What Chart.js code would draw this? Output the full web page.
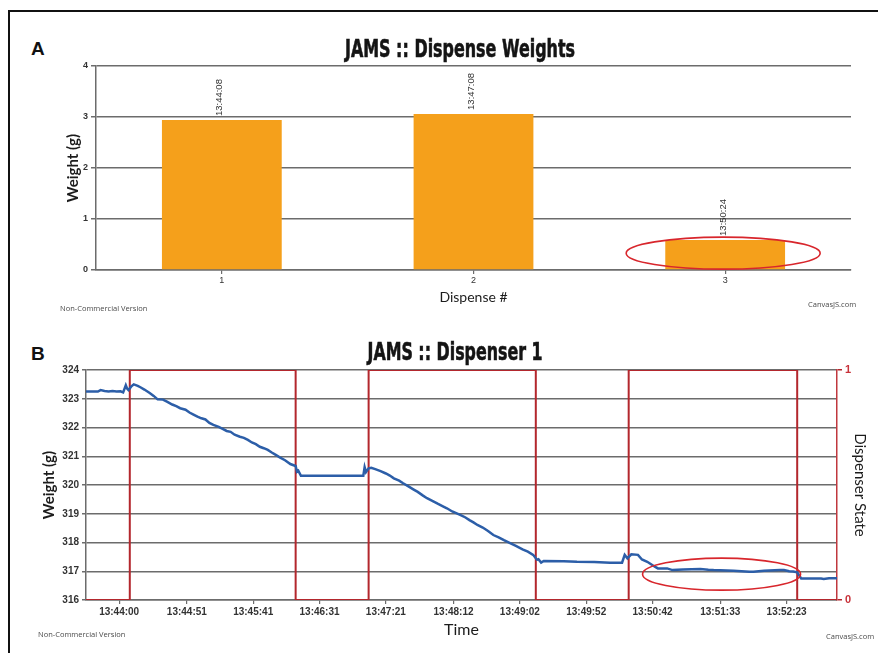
<!DOCTYPE html>
<html>
<head>
<meta charset="utf-8">
<title>JAMS dispense dashboard</title>
<script src="https://cdn.jsdelivr.net/npm/chart.js@4.4.0/dist/chart.umd.min.js"></script>
<style>
  html, body { margin: 0; padding: 0; background: #fff; overflow: hidden; }
  body { width: 878px; height: 653px; position: relative; }
  #frame { position: absolute; left: 8px; top: 10px; width: 900px; height: 700px;
           border-top: 2px solid #111; border-left: 2px solid #111; }
  .panel-letter { position: absolute; font: bold 19px "Liberation Sans", Arial, sans-serif; color: #111; }
  #wrapA { position: absolute; left: 40px; top: 30px; }
  #wrapB { position: absolute; left: 30px; top: 335px; }
  canvas { display: block; }
</style>
</head>
<body>
<div id="frame"></div>
<div class="panel-letter" style="left:31px; top:38px;">A</div>
<div class="panel-letter" style="left:31px; top:343px;">B</div>
<div id="wrapA"><canvas id="chartA" width="838" height="290"></canvas></div>
<div id="wrapB"><canvas id="chartB" width="848" height="310"></canvas></div>

<script>
// ---- Panel A: weight dispensed per dispense event ----
const dispenseNumbers = ['1', '2', '3'];
const dispenseWeights = [2.94, 3.06, 0.59];
const dispenseTimes = ['13:44:08', '13:47:08', '13:50:24'];

// ---- Panel B: scale reading and dispenser state over time ----
const timeTickLabels = ['13:44:00', '13:44:51', '13:45:41', '13:46:31', '13:47:21', '13:48:12',
                        '13:49:02', '13:49:52', '13:50:42', '13:51:33', '13:52:23'];
const timeAxisStart = '13:43:35';
const timeAxisEnd = '13:53:01';

const weightTimes = [
  '13:43:35', '13:43:44', '13:43:46', '13:43:49', '13:43:52', '13:43:55', '13:43:58', '13:44:01',
  '13:44:03', '13:44:05', '13:44:06', '13:44:07', '13:44:09', '13:44:11', '13:44:14', '13:44:16',
  '13:44:19', '13:44:23', '13:44:26', '13:44:29', '13:44:33', '13:44:36', '13:44:40', '13:44:43',
  '13:44:46', '13:44:50', '13:44:53', '13:44:56', '13:44:59', '13:45:02', '13:45:05', '13:45:08',
  '13:45:11', '13:45:15', '13:45:18', '13:45:21', '13:45:24', '13:45:27', '13:45:31', '13:45:34',
  '13:45:37', '13:45:40', '13:45:43', '13:45:46', '13:45:49', '13:45:52', '13:45:55', '13:45:58',
  '13:46:01', '13:46:05', '13:46:09', '13:46:13', '13:46:14', '13:46:15', '13:46:17', '13:47:04',
  '13:47:05', '13:47:06', '13:47:08', '13:47:10', '13:47:13', '13:47:17', '13:47:21', '13:47:24',
  '13:47:27', '13:47:31', '13:47:34', '13:47:38', '13:47:42', '13:47:45', '13:47:49', '13:47:52',
  '13:47:56', '13:48:00', '13:48:04', '13:48:07', '13:48:11', '13:48:14', '13:48:17', '13:48:21',
  '13:48:24', '13:48:27', '13:48:30', '13:48:34', '13:48:38', '13:48:42', '13:48:46', '13:48:50',
  '13:48:55', '13:48:59', '13:49:04', '13:49:08', '13:49:12', '13:49:14', '13:49:15', '13:49:16',
  '13:49:18', '13:49:20', '13:49:35', '13:49:45', '13:49:58', '13:50:10', '13:50:19', '13:50:21',
  '13:50:23', '13:50:26', '13:50:31', '13:50:34', '13:50:38', '13:50:40', '13:50:44', '13:50:46',
  '13:50:53', '13:50:57', '13:51:05', '13:51:18', '13:51:24', '13:51:28', '13:51:43', '13:51:55',
  '13:51:58', '13:52:06', '13:52:18', '13:52:21', '13:52:25', '13:52:28', '13:52:31', '13:52:34',
  '13:52:49', '13:52:51', '13:52:55', '13:53:01'
];
const weightValues = [
  323.25, 323.25, 323.30, 323.27, 323.25, 323.27, 323.25, 323.26,
  323.22, 323.47, 323.35, 323.30, 323.42, 323.50, 323.45, 323.40,
  323.32, 323.20, 323.10, 322.98, 322.97, 322.90, 322.80, 322.74,
  322.67, 322.62, 322.52, 322.45, 322.38, 322.32, 322.28, 322.16,
  322.09, 322.02, 321.95, 321.88, 321.85, 321.75, 321.68, 321.64,
  321.57, 321.48, 321.42, 321.33, 321.28, 321.22, 321.13, 321.05,
  320.96, 320.86, 320.73, 320.66, 320.46, 320.50, 320.32, 320.32,
  320.62, 320.45, 320.58, 320.60, 320.55, 320.48, 320.40, 320.33,
  320.23, 320.15, 320.06, 319.95, 319.84, 319.76, 319.63, 319.54,
  319.45, 319.35, 319.26, 319.19, 319.08, 319.02, 318.96, 318.87,
  318.78, 318.70, 318.61, 318.52, 318.40, 318.26, 318.18, 318.08,
  317.97, 317.88, 317.76, 317.68, 317.57, 317.45, 317.40, 317.42,
  317.30, 317.36, 317.35, 317.33, 317.32, 317.30, 317.30, 317.57,
  317.45, 317.59, 317.57, 317.41, 317.33, 317.27, 317.15, 317.10,
  317.10, 317.04, 317.06, 317.08, 317.05, 317.04, 317.02, 316.98,
  316.98, 317.02, 317.04, 317.04, 317.00, 316.99, 316.96, 316.75,
  316.75, 316.73, 316.76, 316.76
];

const stateTimes = ['13:43:35', '13:44:08', '13:46:13', '13:47:08', '13:49:14', '13:50:24', '13:52:31', '13:53:01'];
const stateValues = [0, 1, 0, 1, 0, 1, 0, 0];

// seconds past 13:00:00 for a "HH:MM:SS" string
function toSec(hms) {
  const [h, m, s] = hms.split(':').map(Number);
  return (h - 13) * 3600 + m * 60 + s;
}

const tickFont = '"Liberation Sans", Arial, sans-serif';
const labelFont = 'Lato, "Open Sans", sans-serif';
const gridGrey = '#6c6c6c';
const stateRed = '#b3272d';

// Headline, watermark and highlight ring drawn on top of each chart
const decorPlugin = {
  id: 'decor',
  afterDraw(chart, args, o) {
    const ctx = chart.ctx;
    ctx.save();
    // headline, squeezed to the set width
    ctx.font = 'bold 25px "Liberation Sans Narrow", "DejaVu Sans Condensed", "Liberation Sans", sans-serif';
    ctx.fillStyle = '#141414';
    ctx.strokeStyle = '#141414';
    ctx.lineWidth = 0.6;
    ctx.textAlign = 'center';
    ctx.textBaseline = 'alphabetic';
    const w = ctx.measureText(o.title).width;
    ctx.translate(o.titleX, o.titleY);
    ctx.scale(o.titleWidth / w, 1);
    ctx.fillText(o.title, 0, 0);
    ctx.strokeText(o.title, 0, 0);
    ctx.restore();

    ctx.save();
    ctx.font = '7.5px "Open Sans", sans-serif';
    ctx.fillStyle = '#4a4a4a';
    ctx.textBaseline = 'middle';
    ctx.textAlign = 'left';
    ctx.fillText('Non-Commercial Version', o.noteLeft[0], o.noteLeft[1]);
    ctx.fillText('CanvasJS.com', o.noteRight[0], o.noteRight[1]);
    ctx.restore();

    // highlight ring placed by data value
    const xs = chart.scales.x, ys = chart.scales[o.ring.axis];
    const cx = xs.getPixelForValue(o.ring.x) + (o.ring.dx || 0);
    const cy = ys.getPixelForValue(o.ring.y);
    ctx.save();
    ctx.strokeStyle = '#d8262c';
    ctx.lineWidth = 1.6;
    ctx.beginPath();
    ctx.ellipse(cx, cy, o.ring.rx, o.ring.ry, 0, 0, Math.PI * 2);
    ctx.stroke();
    ctx.restore();
  }
};

// dispense time written vertically above each bar
const barTimePlugin = {
  id: 'barTime',
  afterDatasetsDraw(chart, args, o) {
    const ctx = chart.ctx;
    const meta = chart.getDatasetMeta(0);
    ctx.save();
    ctx.font = '9.5px "Liberation Sans", Arial, sans-serif';
    ctx.fillStyle = '#333';
    ctx.textAlign = 'left';
    ctx.textBaseline = 'middle';
    meta.data.forEach((bar, i) => {
      const { x, y } = bar.getProps(['x', 'y'], true);
      ctx.save();
      ctx.translate(x - 2, y - 4);
      ctx.rotate(-Math.PI / 2);
      ctx.fillText(o.labels[i], 0, 0);
      ctx.restore();
    });
    ctx.restore();
  }
};

new Chart(document.getElementById('chartA'), {
  type: 'bar',
  data: {
    labels: dispenseNumbers,
    datasets: [{
      data: dispenseWeights,
      backgroundColor: '#F5A01B',
      borderWidth: 0,
      barPercentage: 0.476,
      categoryPercentage: 1
    }]
  },
  options: {
    responsive: false,
    animation: false,
    events: [],
    layout: { padding: { top: 36, right: 27, bottom: 14, left: 20 } },
    plugins: {
      legend: { display: false },
      tooltip: { enabled: false },
      barTime: { labels: dispenseTimes },
      decor: {
        title: 'JAMS :: Dispense Weights', titleX: 420, titleY: 27, titleWidth: 230,
        noteLeft: [20, 279], noteRight: [768, 275],
        ring: { axis: 'y', x: 2, dx: -2, y: 0.33, rx: 97, ry: 16 }
      }
    },
    scales: {
      x: {
        grid: { drawOnChartArea: false, offset: false, tickLength: 4, color: gridGrey, lineWidth: 1.2 },
        border: { color: gridGrey, width: 1.5 },
        ticks: { font: { size: 9, family: tickFont }, color: '#333', padding: 1 },
        title: { display: true, text: 'Dispense #', font: { size: 14, family: labelFont }, color: '#1c1c1c',
                 padding: { top: 2, bottom: 0 } },
        afterFit(s) { s.height = 36; }
      },
      y: {
        min: 0, max: 4,
        ticks: { stepSize: 1, font: { size: 9, weight: 'bold', family: tickFont }, color: '#333', padding: 3 },
        grid: { color: gridGrey, lineWidth: 1.5, tickLength: 5 },
        border: { color: gridGrey, width: 1.5 },
        title: { display: true, text: 'Weight (g)', font: { size: 15, weight: 'bold', family: labelFont },
                 color: '#1c1c1c', padding: { top: 4, bottom: 0 } },
        afterFit(s) { s.width = 36; }
      }
    }
  },
  plugins: [barTimePlugin, decorPlugin]
});

const weightPoints = weightTimes.map((t, i) => ({ x: toSec(t), y: weightValues[i] }));
const statePoints = stateTimes.map((t, i) => ({ x: toSec(t), y: stateValues[i] }));

new Chart(document.getElementById('chartB'), {
  type: 'line',
  data: {
    datasets: [
      {
        label: 'Weight',
        data: weightPoints,
        yAxisID: 'y',
        borderColor: '#2c5ea8',
        borderWidth: 2.5,
        pointRadius: 0,
        tension: 0,
        order: 1
      },
      {
        label: 'Dispenser State',
        data: statePoints,
        yAxisID: 'y2',
        borderColor: stateRed,
        borderWidth: 2,
        pointRadius: 0,
        stepped: 'before',
        order: 2
      }
    ]
  },
  options: {
    responsive: false,
    animation: false,
    events: [],
    layout: { padding: { top: 35, right: 0, bottom: 6, left: 8 } },
    plugins: {
      legend: { display: false },
      tooltip: { enabled: false },
      decor: {
        title: 'JAMS :: Dispenser 1', titleX: 425, titleY: 25, titleWidth: 175,
        noteLeft: [8, 300], noteRight: [796, 302],
        ring: { axis: 'y', x: toSec('13:51:34'), y: 316.9, rx: 79, ry: 16 }
      }
    },
    scales: {
      x: {
        type: 'linear',
        min: toSec(timeAxisStart),
        max: toSec(timeAxisEnd),
        afterBuildTicks(scale) {
          scale.ticks = timeTickLabels.map(l => ({ value: toSec(l) }));
        },
        ticks: {
          autoSkip: false, maxRotation: 0, minRotation: 0,
          font: { size: 10, weight: 'bold', family: tickFont }, color: '#333', padding: 2,
          callback: (v, i) => timeTickLabels[i]
        },
        grid: { drawOnChartArea: false, tickLength: 4, color: gridGrey, lineWidth: 1.2 },
        border: { color: gridGrey, width: 1.5 },
        title: { display: true, text: 'Time', font: { size: 16, family: labelFont }, color: '#1c1c1c',
                 padding: { top: 2, bottom: 0 } },
        afterFit(s) { s.height = 39; }
      },
      y: {
        position: 'left',
        min: 316, max: 324,
        ticks: { stepSize: 1, font: { size: 10, weight: 'bold', family: tickFont }, color: '#333', padding: 3 },
        grid: { color: gridGrey, lineWidth: 1.5, tickLength: 4 },
        border: { color: gridGrey, width: 1.5 },
        title: { display: true, text: 'Weight (g)', font: { size: 15, weight: 'bold', family: labelFont },
                 color: '#1c1c1c', padding: { top: 2, bottom: 0 } },
        afterFit(s) { s.width = 48; }
      },
      y2: {
        position: 'right',
        min: 0, max: 1,
        ticks: { stepSize: 1, font: { size: 11, weight: 'bold', family: tickFont }, color: '#c8323a', padding: 3 },
        grid: { drawOnChartArea: false, color: stateRed, tickLength: 5, lineWidth: 1.5 },
        border: { color: '#c0383e', width: 1.5 },
        title: { display: true, text: 'Dispenser State', font: { size: 15, family: labelFont }, color: '#1c1c1c',
                 padding: { top: 9, bottom: 0 } },
        afterFit(s) { s.width = 41; }
      }
    }
  },
  plugins: [decorPlugin]
});
</script>
</body>
</html>
